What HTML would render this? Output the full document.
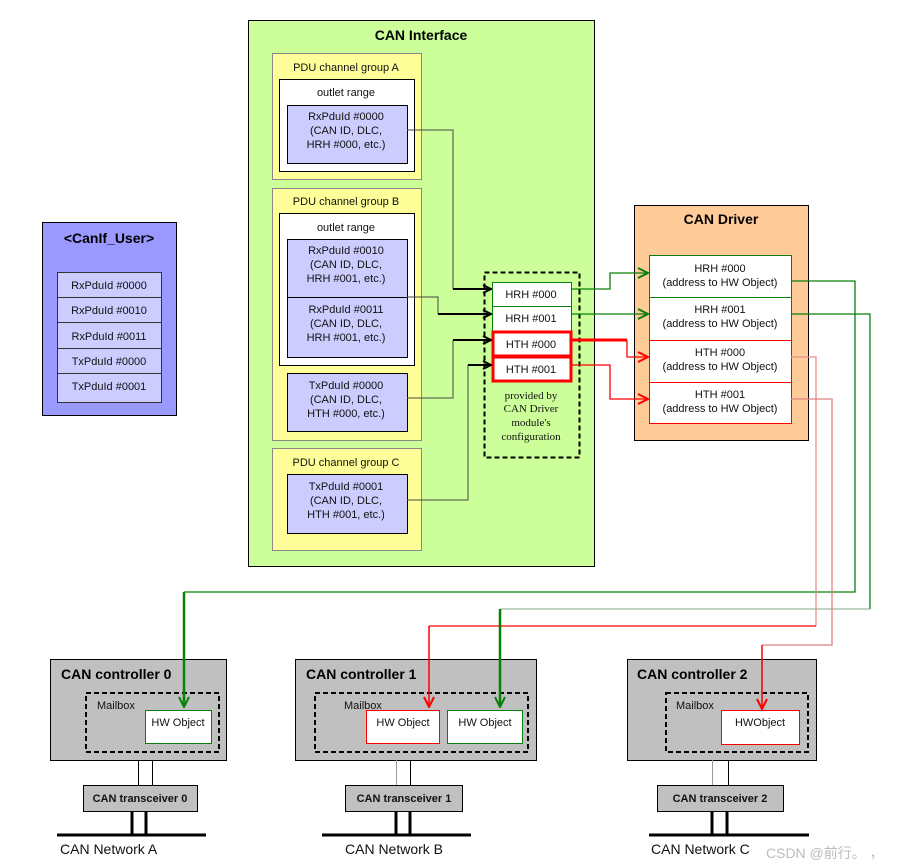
<!DOCTYPE html>
<html><head><meta charset="utf-8"><style>
html,body{margin:0;padding:0;background:#fff;}
svg{display:block;font-family:"Liberation Sans",Arial,sans-serif;}
.t{font-size:11px;fill:#111;text-anchor:middle;}
.b{font-weight:bold;font-size:14px;fill:#000;}
.s{font-family:"Liberation Serif",serif;font-size:11px;fill:#111;text-anchor:middle;}
</style></head><body>
<svg width="899" height="868" viewBox="0 0 899 868">
<defs>
<marker id="ak" markerWidth="10" markerHeight="10" refX="9" refY="5" orient="auto" markerUnits="userSpaceOnUse"><path d="M1,1 L9,5 L1,9" fill="none" stroke="#000" stroke-width="2"/></marker>
<marker id="ag" markerWidth="12" markerHeight="12" refX="11" refY="6" orient="auto" markerUnits="userSpaceOnUse"><path d="M1,1 L11,6 L1,11" fill="none" stroke="#0a800a" stroke-width="2"/></marker>
<marker id="ar" markerWidth="12" markerHeight="12" refX="11" refY="6" orient="auto" markerUnits="userSpaceOnUse"><path d="M1,1 L11,6 L1,11" fill="none" stroke="#f00" stroke-width="2"/></marker>
</defs>

<!-- CanIf_User -->
<rect x="42.5" y="222.5" width="134" height="193" fill="#9999ff" stroke="#000"/>
<text x="109" y="243" class="b" text-anchor="middle">&lt;CanIf_User&gt;</text>
<g fill="#ccccff" stroke="#333">
<rect x="57.5" y="272.5" width="104" height="25"/><rect x="57.5" y="297.5" width="104" height="25"/><rect x="57.5" y="322.5" width="104" height="26"/><rect x="57.5" y="348.5" width="104" height="25"/><rect x="57.5" y="373.5" width="104" height="29"/></g>
<text x="109" y="289" class="t">RxPduId #0000</text>
<text x="109" y="314" class="t">RxPduId #0010</text>
<text x="109" y="340" class="t">RxPduId #0011</text>
<text x="109" y="365" class="t">TxPduId #0000</text>
<text x="109" y="390" class="t">TxPduId #0001</text>

<!-- CAN Interface -->
<rect x="248.5" y="20.5" width="346" height="546" fill="#ccff99" stroke="#000"/>
<text x="421" y="40" class="b" text-anchor="middle">CAN Interface</text>
<g stroke="#888" fill="#ffff99">
<rect x="272.5" y="53.5" width="149" height="126"/>
<rect x="272.5" y="188.5" width="149" height="252"/>
<rect x="272.5" y="448.5" width="149" height="102"/></g>
<rect x="279.5" y="79.5" width="135" height="92" fill="#fff" stroke="#000"/>
<rect x="279.5" y="213.5" width="135" height="152" fill="#fff" stroke="#000"/>
<g fill="#ccccff" stroke="#000">
<rect x="287.5" y="105.5" width="120" height="58"/>
<rect x="287.5" y="239.5" width="120" height="58"/>
<rect x="287.5" y="297.5" width="120" height="60"/>
<rect x="287.5" y="373.5" width="120" height="58"/>
<rect x="287.5" y="474.5" width="120" height="59"/></g>
<text x="346" y="71" class="t">PDU channel group A</text>
<text x="346" y="96" class="t">outlet range</text>
<text x="346" y="120" class="t">RxPduId #0000</text><text x="346" y="134" class="t">(CAN ID, DLC,</text><text x="346" y="148" class="t">HRH #000,  etc.)</text>
<text x="346" y="205" class="t">PDU channel group B</text>
<text x="346" y="231" class="t">outlet range</text>
<text x="346" y="254" class="t">RxPduId #0010</text><text x="346" y="268" class="t">(CAN ID, DLC,</text><text x="346" y="282" class="t">HRH #001,  etc.)</text>
<text x="346" y="313" class="t">RxPduId #0011</text><text x="346" y="327" class="t">(CAN ID, DLC,</text><text x="346" y="341" class="t">HRH #001,  etc.)</text>
<text x="346" y="389" class="t">TxPduId #0000</text><text x="346" y="403" class="t">(CAN ID, DLC,</text><text x="346" y="417" class="t">HTH #000,  etc.)</text>
<text x="346" y="466" class="t">PDU channel group C</text>
<text x="346" y="490" class="t">TxPduId #0001</text><text x="346" y="504" class="t">(CAN ID, DLC,</text><text x="346" y="518" class="t">HTH #001,  etc.)</text>

<!-- dashed config box -->
<rect x="484.5" y="272.5" width="95" height="185" fill="none" stroke="#000" stroke-width="2" stroke-dasharray="5,3"/>
<rect x="492.5" y="282.5" width="79" height="24" fill="#fff" stroke="#0a800a"/>
<rect x="492.5" y="306.5" width="79" height="25" fill="#fff" stroke="#0a800a"/>
<rect x="493" y="332" width="78" height="24" fill="#fff" stroke="#f00" stroke-width="3"/>
<rect x="493" y="357" width="78" height="24" fill="#fff" stroke="#f00" stroke-width="3"/>
<text x="531" y="298" class="t">HRH #000</text>
<text x="531" y="322" class="t">HRH #001</text>
<text x="531" y="348" class="t">HTH #000</text>
<text x="531" y="373" class="t">HTH #001</text>
<text x="531" y="399" class="s">provided by</text>
<text x="531" y="412" class="s">CAN Driver</text>
<text x="531" y="426" class="s">module's</text>
<text x="531" y="440" class="s">configuration</text>

<!-- black connectors -->
<g fill="none" stroke="#444" stroke-width="1">
<polyline points="407,130 453,130 453,289"/>
<polyline points="407,297 438,297 438,314"/>
<polyline points="407,398 453,398 453,340"/>
<polyline points="407,500 468,500 468,365"/></g>
<g stroke="#000" stroke-width="2" marker-end="url(#ak)">
<line x1="453" y1="289" x2="491" y2="289"/>
<line x1="438" y1="314" x2="491" y2="314"/>
<line x1="453" y1="340" x2="491" y2="340"/>
<line x1="468" y1="365" x2="491" y2="365"/></g>

<!-- CAN Driver -->
<rect x="634.5" y="205.5" width="174" height="235" fill="#ffcc99" stroke="#000"/>
<text x="721" y="224" class="b" text-anchor="middle">CAN Driver</text>
<rect x="649.5" y="255.5" width="142" height="42" fill="#fff" stroke="#0a800a"/>
<rect x="649.5" y="297.5" width="142" height="43" fill="#fff" stroke="#0a800a"/>
<rect x="649.5" y="340.5" width="142" height="42" fill="#fff" stroke="#f00"/>
<rect x="649.5" y="382.5" width="142" height="41" fill="#fff" stroke="#f00"/>
<text x="720" y="272" class="t">HRH #000</text><text x="720" y="286" class="t">(address to HW Object)</text>
<text x="720" y="313" class="t">HRH #001</text><text x="720" y="327" class="t">(address to HW Object)</text>
<text x="720" y="356" class="t">HTH #000</text><text x="720" y="370" class="t">(address to HW Object)</text>
<text x="720" y="398" class="t">HTH #001</text><text x="720" y="412" class="t">(address to HW Object)</text>

<!-- IF -> driver -->
<g fill="none" stroke-width="1.3">
<polyline points="571,289 610,289 610,273 648,273" stroke="#0a800a" marker-end="url(#ag)"/>
<polyline points="571,314 648,314" stroke="#0a800a" marker-end="url(#ag)"/>
<polyline points="571,340 627,340" stroke="#f00" stroke-width="3"/>
<polyline points="627,340 627,357 648,357" stroke="#f00" marker-end="url(#ar)"/>
<polyline points="571,365 610,365 610,399 648,399" stroke="#f00" marker-end="url(#ar)"/>
</g>

<!-- controllers -->
<g fill="#c0c0c0" stroke="#000">
<rect x="50.5" y="659.5" width="176" height="101"/>
<rect x="295.5" y="659.5" width="241" height="101"/>
<rect x="627.5" y="659.5" width="189" height="101"/></g>
<text x="61" y="679" class="b">CAN controller 0</text>
<text x="306" y="679" class="b">CAN controller 1</text>
<text x="637" y="679" class="b">CAN controller 2</text>
<g fill="none" stroke="#000" stroke-width="2" stroke-dasharray="5,3">
<rect x="86" y="693" width="133" height="59"/>
<rect x="315" y="693" width="213" height="59"/>
<rect x="666" y="693" width="142" height="59"/></g>
<text x="97" y="709" font-size="11" fill="#111">Mailbox</text>
<text x="344" y="709" font-size="11" fill="#111">Mailbox</text>
<text x="676" y="709" font-size="11" fill="#111">Mailbox</text>
<rect x="145.5" y="710.5" width="66" height="33" fill="#fff" stroke="#0a800a"/>
<rect x="366.5" y="710.5" width="73" height="33" fill="#fff" stroke="#f00"/>
<rect x="447.5" y="710.5" width="75" height="33" fill="#fff" stroke="#0a800a"/>
<rect x="721.5" y="710.5" width="78" height="34" fill="#fff" stroke="#f00"/>
<text x="178" y="726" class="t">HW Object</text>
<text x="403" y="726" class="t">HW Object</text>
<text x="485" y="726" class="t">HW Object</text>
<text x="760" y="726" class="t">HWObject</text>

<!-- driver -> controllers -->
<g fill="none" stroke-width="1.3">
<polyline points="791,281 855,281 855,592 184,592" stroke="#0a800a"/>
<polyline points="791,314 870,314 870,609" stroke="#0a800a"/>
<polyline points="870,609 500,609" stroke="#9db89d"/>
<polyline points="791,357 816,357 816,626" stroke="#e89090"/>
<polyline points="816,626 429,626" stroke="#f00"/>
<polyline points="791,399 832,399 832,645 762,645" stroke="#e08080"/>
</g>
<g fill="none">
<line x1="184" y1="592" x2="184" y2="707" stroke="#0a800a" stroke-width="2.5" marker-end="url(#ag)"/>
<line x1="500" y1="609" x2="500" y2="707" stroke="#0a800a" stroke-width="2.5" marker-end="url(#ag)"/>
<line x1="429" y1="626" x2="429" y2="707" stroke="#f00" stroke-width="1.5" marker-end="url(#ar)"/>
<line x1="762" y1="645" x2="762" y2="709" stroke="#f00" stroke-width="1.5" marker-end="url(#ar)"/>
</g>

<!-- transceivers -->
<g stroke="#000"><line x1="138.5" y1="760" x2="138.5" y2="785"/><line x1="152.5" y1="760" x2="152.5" y2="785"/>
<line x1="396.5" y1="760" x2="396.5" y2="785" stroke="#999"/><line x1="410.5" y1="760" x2="410.5" y2="785"/>
<line x1="712.5" y1="760" x2="712.5" y2="785" stroke="#999"/><line x1="728.5" y1="760" x2="728.5" y2="785"/></g>
<g fill="#c0c0c0" stroke="#000">
<rect x="83.5" y="785.5" width="114" height="26"/>
<rect x="345.5" y="785.5" width="117" height="26"/>
<rect x="657.5" y="785.5" width="126" height="26"/></g>
<text x="140" y="802" class="t" font-weight="bold" font-size="11">CAN transceiver 0</text>
<text x="404" y="802" class="t" font-weight="bold" font-size="11">CAN transceiver 1</text>
<text x="720" y="802" class="t" font-weight="bold" font-size="11">CAN transceiver 2</text>
<g stroke="#000" stroke-width="3">
<line x1="132" y1="811" x2="132" y2="835"/><line x1="146" y1="811" x2="146" y2="835"/>
<line x1="57" y1="835" x2="206" y2="835"/>
<line x1="396" y1="811" x2="396" y2="835"/><line x1="410" y1="811" x2="410" y2="835"/>
<line x1="322" y1="835" x2="471" y2="835"/>
<line x1="712" y1="811" x2="712" y2="835"/><line x1="727" y1="811" x2="727" y2="835"/>
<line x1="649" y1="835" x2="809" y2="835"/></g>
<text x="60" y="854" font-size="14" fill="#111">CAN Network A</text>
<text x="345" y="854" font-size="14" fill="#111">CAN Network B</text>
<text x="651" y="854" font-size="14" fill="#111">CAN Network C</text>
<text x="766" y="858" font-size="14" fill="#bbb" font-family="'Liberation Sans','Noto Sans CJK SC',sans-serif">CSDN @前行。 ，</text>
</svg>
</body></html>
